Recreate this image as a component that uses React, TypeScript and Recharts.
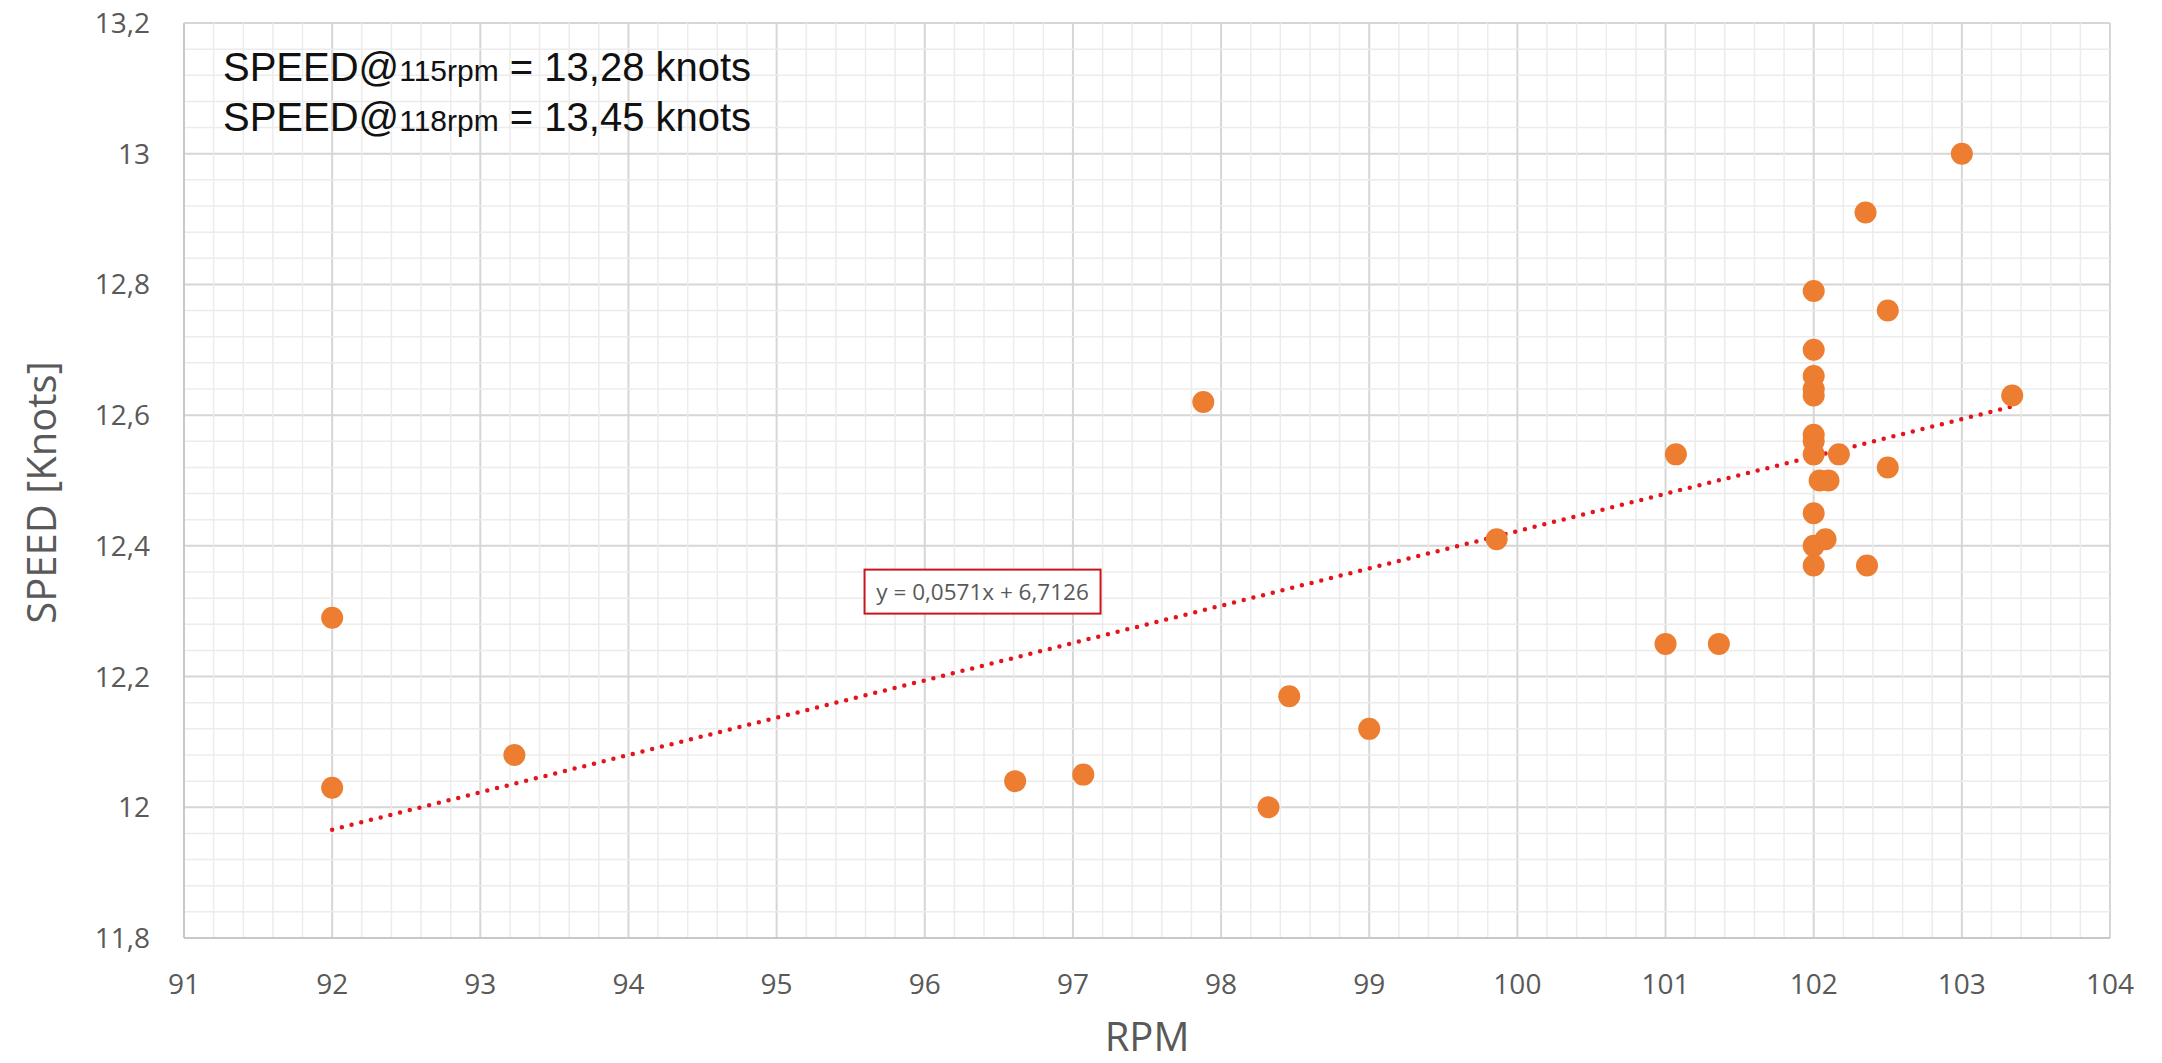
import { ScatterChart, Scatter, XAxis, YAxis, CartesianGrid, ReferenceLine, ReferenceDot, Label } from "recharts";

const RPM_TICKS = [91, 92, 93, 94, 95, 96, 97, 98, 99, 100, 101, 102, 103, 104];
const SPEED_TICKS = [11.8, 12, 12.2, 12.4, 12.6, 12.8, 13, 13.2];

// measured runs: shaft rpm vs. speed through water
const rpm = [
  92, 92, 93.23, 96.61, 97.07, 97.88, 98.32, 98.46, 99.0, 99.86, 101.0, 101.07, 101.36,
  102, 102, 102, 102, 102, 102, 102, 102, 102, 102, 102,
  102.04, 102.1, 102.08, 102.17, 102.35, 102.36, 102.5, 102.5, 103, 103.34,
];
const speed = [
  12.29, 12.03, 12.08, 12.04, 12.05, 12.62, 12.0, 12.17, 12.12, 12.41, 12.25, 12.54, 12.25,
  12.79, 12.7, 12.66, 12.64, 12.63, 12.57, 12.56, 12.54, 12.45, 12.4, 12.37,
  12.5, 12.5, 12.41, 12.54, 12.91, 12.37, 12.76, 12.52, 13.0, 12.63,
];

// linear fit
const TREND_SLOPE = 0.0571;
const TREND_INTERCEPT = 6.7126;
const TREND_FROM = 92;
const TREND_TO = 103.34;

const points = rpm.map((x, i) => ({ x, y: speed[i] }));
const trend = [TREND_FROM, TREND_TO].map((x) => ({ x, y: TREND_SLOPE * x + TREND_INTERCEPT }));

const fmtComma = (v: number, digits?: number) =>
  (digits === undefined ? String(Math.round(v * 100) / 100) : v.toFixed(digits)).replace(".", ",");

const trendText = `y = ${fmtComma(TREND_SLOPE, 4)}x + ${fmtComma(TREND_INTERCEPT, 4)}`;

// minor grid: 5 subdivisions between major ticks
function minorValues(ticks: number[]) {
  const out: number[] = [];
  for (let i = 0; i < ticks.length - 1; i++) {
    const step = (ticks[i + 1] - ticks[i]) / 5;
    for (let k = 1; k < 5; k++) out.push(ticks[i] + step * k);
  }
  return out;
}
const minorX = minorValues(RPM_TICKS);
const minorY = minorValues(SPEED_TICKS);

const AXIS_FONT = "'Open Sans', sans-serif";
const AXIS_GREY = "#595959";
const ORANGE = "#ed7d31";

function Dot(props: any) {
  return <circle cx={props.cx} cy={props.cy} r={11} fill={ORANGE} />;
}

function TrendBox(props: any) {
  const w = 236;
  const h = 44;
  return (
    <g>
      <rect x={props.cx - w / 2} y={props.cy - h / 2} width={w} height={h} fill="#fff" stroke="#c8161d" strokeWidth={2} />
      <text x={props.cx} y={props.cy} textAnchor="middle" dominantBaseline="central" fontFamily={AXIS_FONT} fontSize={22.5} fill={AXIS_GREY}>
        {trendText}
      </text>
    </g>
  );
}

export default function App() {
  return (
    <div style={{ position: "absolute", left: 0, top: 0, width: 2162, height: 1063, background: "#fff" }}>
      <ScatterChart width={2162} height={1063} margin={{ top: 23, right: 52, bottom: 0, left: 0 }}>
        {minorX.map((v) => (
          <ReferenceLine key={`mx${v}`} x={v} stroke="#ececec" strokeWidth={1.5} />
        ))}
        {minorY.map((v) => (
          <ReferenceLine key={`my${v}`} y={v} stroke="#ececec" strokeWidth={1.5} />
        ))}
        <CartesianGrid stroke="#d6d6d6" strokeWidth={2} />
        <XAxis
          type="number"
          dataKey="x"
          domain={[91, 104]}
          ticks={RPM_TICKS}
          height={125}
          tickSize={0}
          tickMargin={36}
          tickLine={false}
          axisLine={{ stroke: "#c8c8c8", strokeWidth: 2 }}
          tick={{ fill: AXIS_GREY, fontSize: 28, fontFamily: AXIS_FONT }}
        >
          <Label value="RPM" position="insideBottom" offset={12} fill={AXIS_GREY} fontSize={40} fontFamily={AXIS_FONT} />
        </XAxis>
        <YAxis
          type="number"
          dataKey="y"
          domain={[11.8, 13.2]}
          ticks={SPEED_TICKS}
          width={184}
          tickSize={0}
          tickMargin={34}
          tickLine={false}
          axisLine={{ stroke: "#c8c8c8", strokeWidth: 2 }}
          tick={{ fill: AXIS_GREY, fontSize: 28, fontFamily: AXIS_FONT }}
          tickFormatter={(v: number) => fmtComma(v)}
        >
          <Label
            content={({ viewBox }: any) => {
              const cx = viewBox.x + 40;
              const cy = viewBox.y + viewBox.height / 2 + 12;
              return (
                <text
                  x={cx}
                  y={cy}
                  transform={`rotate(-90, ${cx}, ${cy})`}
                  textAnchor="middle"
                  dominantBaseline="central"
                  fill={AXIS_GREY}
                  fontSize={40}
                  fontFamily={AXIS_FONT}
                >
                  SPEED [Knots]
                </text>
              );
            }}
          />
        </YAxis>
        <Scatter
          data={trend}
          isAnimationActive={false}
          shape={() => <g />}
          line={{ stroke: "#e5141b", strokeWidth: 4.5, strokeDasharray: "0 10", strokeLinecap: "round" }}
        />
        <Scatter data={points} isAnimationActive={false} shape={Dot} />
        <ReferenceDot x={96.39} y={12.33} r={0} shape={TrendBox} />
      </ScatterChart>
      <div
        style={{
          position: "absolute",
          left: 223,
          top: 44,
          fontFamily: "'Liberation Sans', Arial, sans-serif",
          fontSize: 40,
          lineHeight: "46px",
          color: "#111",
          whiteSpace: "nowrap",
        }}
      >
        <div>
          SPEED@<span style={{ fontSize: 30 }}>115rpm</span> = 13,28 knots
        </div>
        <div>
          SPEED@<span style={{ fontSize: 30 }}>118rpm</span> = 13,45 knots
        </div>
      </div>
    </div>
  );
}
